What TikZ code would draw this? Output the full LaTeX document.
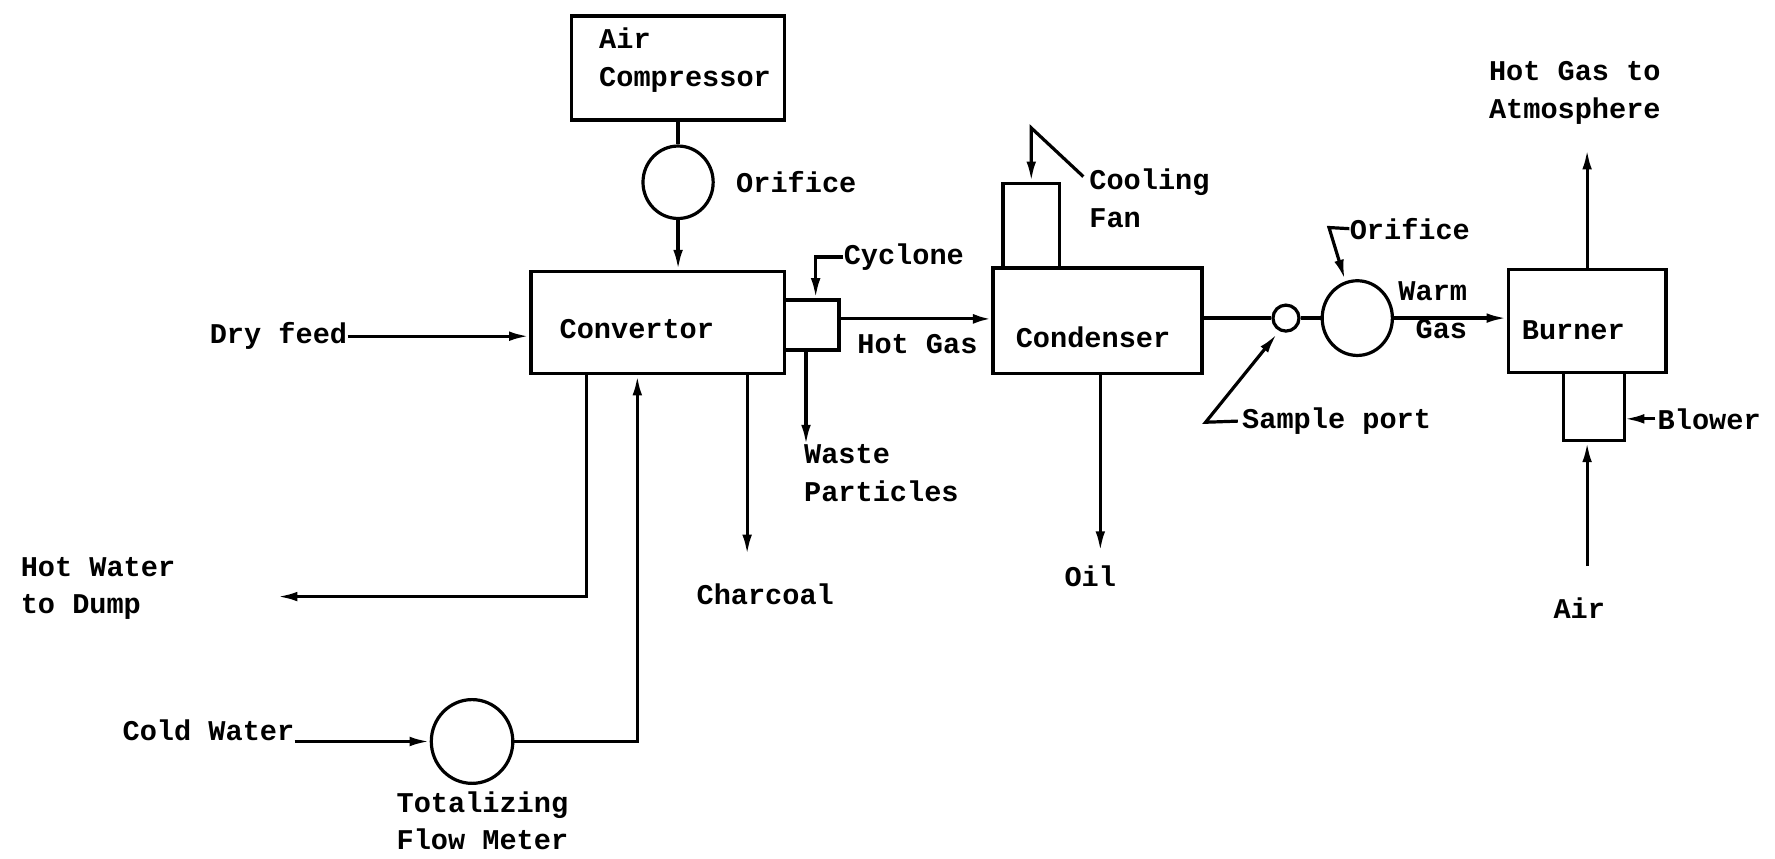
\documentclass[tikz,border=0pt]{standalone}
\usepackage{fontspec}
\newfontfamily\typew{Liberation Mono}
\usetikzlibrary{arrows.meta,shapes.geometric,calc}
\def\uu{0.566pt}
\tikzset{
  box/.style={draw, line width=1.8pt, rectangle, inner sep=0pt},
  ring/.style={draw, line width=1.6pt, ellipse, inner sep=0pt},
  lbl/.style={inner sep=0pt, anchor=west, align=left, font=\typew\bfseries\fontsize{14.3}{18.7}\selectfont},
  flow/.style={line width=1.6pt, -{Latex[length=10pt,width=4.8pt]}},
  openflow/.style={line width=1.6pt, -{Latex[open,length=9pt,width=5pt]}},
  pipe/.style={line width=1.6pt},
}
\begin{document}
\begin{tikzpicture}[x=0.566pt, y=-0.566pt]
\useasboundingbox (0,0) rectangle (1568,758);
\fill[white] (0,0) rectangle (1568,758);

% boxes
\node[box, minimum width=188*\uu, minimum height=92*\uu] (comp) at (599,60) {};
\node[box, minimum width=224*\uu, minimum height=90*\uu] (conv) at (581,285) {};
\node[box, minimum width=48*\uu, minimum height=44*\uu] (cyc) at (717,287) {};
\node[box, minimum width=185*\uu, minimum height=93*\uu] (cond) at (969.5,283.5) {};
\node[box, minimum width=50*\uu, minimum height=75*\uu] (fan) at (911,199.5) {};
\node[box, minimum width=139*\uu, minimum height=91*\uu] (burner) at (1402,283.5) {};
\node[box, minimum width=54*\uu, minimum height=60*\uu] (blower) at (1408,359) {};

% circles
\node[ring, minimum width=62*\uu, minimum height=64*\uu] (orif1) at (599,161) {};
\node[ring, minimum width=72*\uu, minimum height=74*\uu] (meter) at (417,655) {};
\node[ring, minimum width=23*\uu, minimum height=23*\uu] (sport) at (1136,281) {};
\node[ring, minimum width=62*\uu, minimum height=66*\uu] (orif2) at (1199,281) {};

% labels
\node[lbl] (comptxt) at (529,53) {Air\\Compressor};
\node[lbl] (orif1lab) at (650,161) {Orifice};
\node[lbl] (convtxt) at (494,291) {Convertor};
\node[lbl] (dry) at (185,297) {Dry feed};
\node[lbl] (cyclab) at (745,227) {Cyclone};
\node[lbl] (hotgas) at (757,304) {Hot Gas};
\node[lbl] (waste) at (710,418) {Waste\\Particles};
\node[lbl] (charcoal) at (615,525) {Charcoal};
\node[lbl] (hotwater) at (18,520) {Hot Water\\to Dump};
\node[lbl] (cold) at (108,645) {Cold Water};
\node[lbl] (total) at (350,725) {Totalizing\\Flow Meter};
\node[lbl] (condtxt) at (897,298) {Condenser};
\node[lbl] (cooling) at (962,175) {Cooling\\Fan};
\node[lbl] (oil) at (940,509) {Oil};
\node[lbl] (sample) at (1097,372) {Sample port};
\node[lbl] (orif2lab) at (1192,202) {Orifice};
\node[lbl] (warm) at (1235,274) {Warm\\\hphantom{W}Gas};
\node[lbl] (burntxt) at (1344,292) {Burner};
\node[lbl] (blowlab) at (1464,370) {Blower};
\node[lbl] (air) at (1372,537) {Air};
\node[lbl] (atmos) at (1315,82) {Hot Gas to\\Atmosphere};

% coordinates
\coordinate (wasteend) at (712,393);
\coordinate (chend) at (660,490);
\coordinate (hwx) at (518,527);
\coordinate (hwend) at (245,527);
\coordinate (cwx) at (563,655);
\coordinate (cfs) at (957,156);
\coordinate (cfk) at (911,113);
\coordinate (oilend) at (972,487);
\coordinate (o2k) at (1174,201);
\coordinate (o2tip) at (1188,247);
\coordinate (spk) at (1065,373);
\coordinate (sptip) at (1128,295);
\coordinate (atmend) at (1402,132);
\coordinate (airstart) at (1402,500);

% connectors
\draw[pipe] (comp.south) -- (orif1.north);
\draw[flow] (orif1.south) -- (orif1.south |- conv.north);
\draw[flow] (dry.east) -- (dry.east -| conv.west);
\draw[flow] (cyclab.west) -| ([xshift=2pt]cyc.north);
\draw[openflow] ([yshift=3pt]cyc.east) -- ([yshift=3pt]cyc.east -| cond.west);
\draw[flow] (cyc.south -| wasteend) -- (wasteend);
\draw[flow] (conv.south -| chend) -- (chend);
\draw[flow] (conv.south -| hwx) -- (hwx) -- (hwend);
\draw[flow] (cold.east |- meter.west) -- (meter.west);
\draw[flow] (meter.east) -- (cwx) -- (cwx |- conv.south);
\draw[flow] (cfs) -- (cfk) -- (cfk |- fan.north);
\draw[flow] (cond.south -| oilend) -- (oilend);
\draw[pipe] (cond.east |- sport.west) -- (sport.west);
\draw[pipe] (sport.east) -- (orif2.west);
\draw[flow] (orif2.east) -- (orif2.east -| burner.west);
\draw[flow] (orif2lab.west) -- (o2k) -- (o2tip);
\draw[flow] ([xshift=-2pt]sample.west) -- (spk) -- (sptip);
\draw[flow] (burner.north -| atmend) -- (atmend);
\draw[flow] (airstart) -- (airstart |- blower.south);
\draw[flow] ([xshift=-1pt]blowlab.west) -- ([xshift=-1pt]blowlab.west -| blower.east);
\end{tikzpicture}
\end{document}
